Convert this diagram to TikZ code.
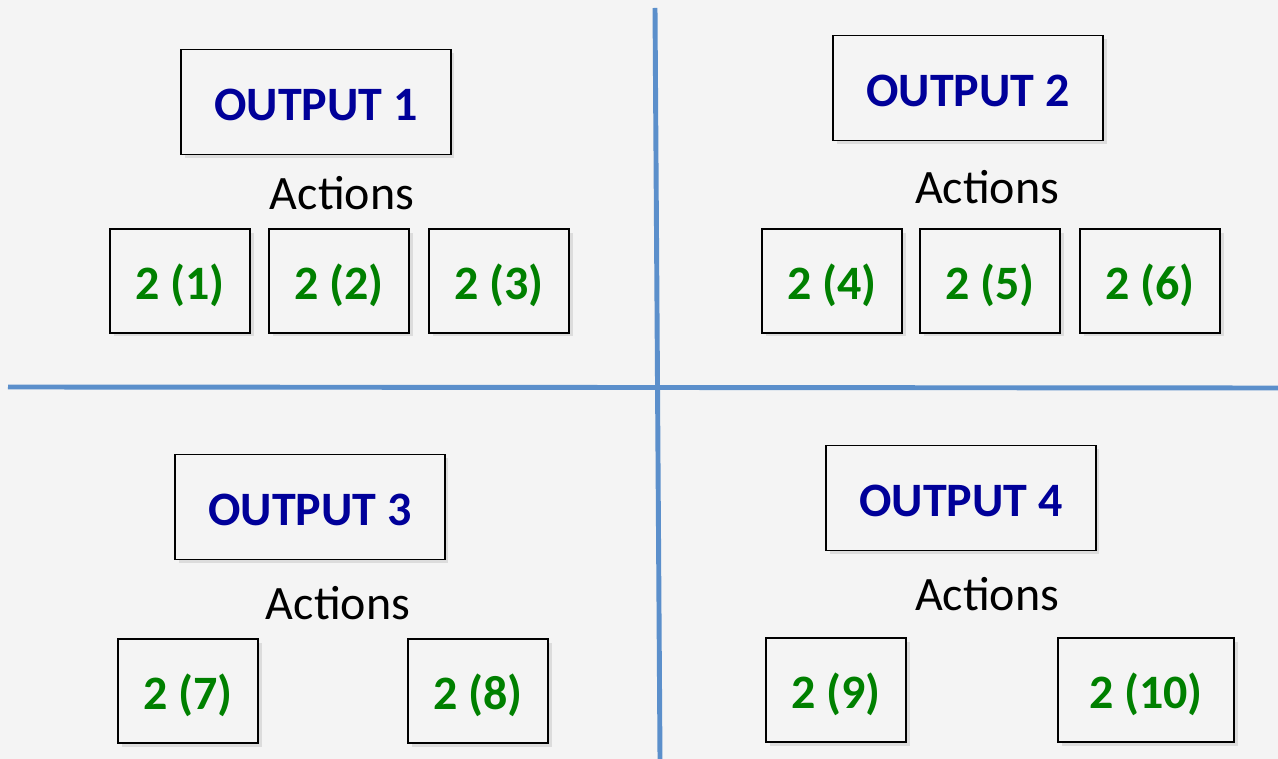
\documentclass[tikz,border=0pt]{standalone}
\usepackage{fontspec}
\setmainfont{Carlito}
\usepackage{xcolor}
\usepackage{tikz}
\usetikzlibrary{shadows}
\definecolor{bg}{HTML}{F4F4F4}
\definecolor{navy}{HTML}{000099}
\definecolor{leaf}{HTML}{008000}
\definecolor{rule}{HTML}{5B8FCB}
\tikzset{
  outbox/.style={draw=black, line width=1.1pt, fill=bg, minimum width=5.4cm, minimum height=2.1cm,
    text=navy, font=\fontsize{27.3}{31}\selectfont\bfseries, text height=27pt, text depth=5.5pt,
    drop shadow={opacity=0.2, shadow xshift=2pt, shadow yshift=-2pt}},
  actbox/.style={draw=black, line width=1.1pt, fill=bg, minimum width=2.8cm, minimum height=2.08cm,
    text=leaf, font=\fontsize{27.3}{31}\selectfont\bfseries, text height=27pt, text depth=5.5pt,
    drop shadow={opacity=0.2, shadow xshift=2pt, shadow yshift=-2pt}},
  lbl/.style={text=black, font=\fontsize{27.3}{31}\selectfont},
  sep/.style={draw=rule, line width=2.8pt}
}
\begin{document}
\begin{tikzpicture}[x=0.02cm, y=-0.02cm]
% background
\fill[bg] (0,0) rectangle (1278,759);
\useasboundingbox (0,0) rectangle (1278,759);

% dividers
\coordinate (vtop) at (655,8);
\coordinate (vbot) at (660,759);
\coordinate (hleft) at (8,387);
\coordinate (hright) at (1278,388);
\draw[sep] (vtop)--(vbot);
\draw[sep] (hleft)--(hright);

% quarter 1
\node[outbox] (out1) at (316,102) {OUTPUT 1};
\node[lbl] (act1) at (342,193) {Actions};
\node[actbox] (a1) at (180,281) {2 (1)};
\node[actbox] (a2) at (339,281) {2 (2)};
\node[actbox] (a3) at (499,281) {2 (3)};

% quarter 2
\node[outbox] (out2) at (968,88) {OUTPUT 2};
\node[lbl] (act2) at (987,187) {Actions};
\node[actbox] (a4) at (832,281) {2 (4)};
\node[actbox] (a5) at (990,281) {2 (5)};
\node[actbox] (a6) at (1150,281) {2 (6)};

% quarter 3
\node[outbox] (out3) at (310,507) {OUTPUT 3};
\node[lbl] (act3) at (338,603) {Actions};
\node[actbox] (a7) at (188,691) {2 (7)};
\node[actbox] (a8) at (478,691) {2 (8)};

% quarter 4
\node[outbox] (out4) at (961,498) {OUTPUT 4};
\node[lbl] (act4) at (987,594) {Actions};
\node[actbox] (a9) at (836,690) {2 (9)};
\node[actbox, minimum width=3.52cm] (a10) at (1146,690) {2 (10)};
\end{tikzpicture}
\end{document}
